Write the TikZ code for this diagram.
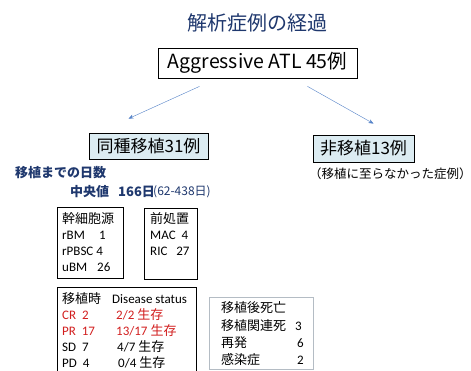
\documentclass[tikz,border=0pt]{standalone}
\usepackage{fontspec}
\setmainfont{Noto Sans CJK JP}
\newfontfamily\latfont{Carlito}
\usetikzlibrary{arrows.meta}
\definecolor{navy}{RGB}{31,56,110}
\definecolor{azul}{RGB}{84,130,200}
\definecolor{celeste}{RGB}{220,236,242}
\definecolor{rojo}{RGB}{210,30,30}
\definecolor{gris}{RGB}{180,188,196}

\begin{document}
\begin{tikzpicture}[x=1pt, y=-1pt,
		box/.style={draw, thick, inner sep=0pt},
		txt/.style={anchor=west, inner sep=0pt, font=\fontsize{13}{13}\selectfont},
		arr/.style={azul, thin, -{Stealth[length=5pt, width=4pt]}}]
				\useasboundingbox[fill=white] (0,0) rectangle (471,371);

				\node[navy, font=\fontsize{20}{20}\selectfont] (title) at (257,23) {解析症例の経過};

				\node[box, minimum width=199pt, minimum height=30pt, font=\fontsize{19.5}{19.5}\selectfont]
					(atl) at (257.5,63) {Aggressive ATL 45例};

				\node[box, fill=celeste, minimum width=119pt, minimum height=26pt, font=\fontsize{17}{17}\selectfont]
					(allo) at (148.5,146) {同種移植31例};
				\node[box, fill=celeste, minimum width=101pt, minimum height=27pt, font=\fontsize{17}{17}\selectfont]
					(non) at (363.5,148.5) {非移植13例};

				\draw[arr] ([xshift=-58pt, yshift=-8pt]atl.south) to ([xshift=-20pt, yshift=14pt]allo.north);
				\draw[arr] ([xshift=50pt, yshift=-8pt]atl.south) to ([xshift=10pt, yshift=11pt]non.north);

				\node[txt, font=\fontsize{12.5}{12.5}\selectfont] (note) at (309,174) {（移植に至らなかった症例）};

				\node[txt, navy, font=\fontsize{13}{13}\selectfont\bfseries] (days) at (15,173) {移植までの日数};
				\node[txt, navy, font=\fontsize{13}{13}\selectfont\bfseries] (median) at (70,192) {中央値};
				\node[txt, navy, font=\fontsize{13}{13}\selectfont\bfseries] (medval) at (118,192) {166日};
				\node[txt, navy, font=\fontsize{12}{12}\selectfont] (range) at (153,192) {(62-438日)};

				\node[box, minimum width=66pt, minimum height=71pt] (stem) at (90,242.5) {};
				\node[txt] (stemh) at (62,219) {幹細胞源};
				\node[txt] (rbm) at (62,235) {\latfont rBM};
				\node[txt] (rbmn) at (99,235) {\latfont 1};
				\node[txt] (rpb) at (62,251) {\latfont rPBSC 4};
				\node[txt] (ubm) at (62,267) {\latfont uBM};
				\node[txt] (ubmn) at (97,267) {\latfont 26};

				\node[box, minimum width=53pt, minimum height=71pt] (cond) at (170.5,243.5) {};
				\node[txt] (condh) at (150,219) {前処置};
				\node[txt] (mac) at (150,235) {\latfont MAC\ \ 4};
				\node[txt] (ric) at (150,251) {\latfont RIC\ \ \ 27};

				\node[box, minimum width=139pt, minimum height=90pt] (stat) at (126.5,332) {};
				\node[txt] (stath) at (62,299) {移植時};
				\node[txt] (dis) at (112,299) {\latfont Disease status};
				\node[txt, rojo] (cr) at (62,315) {\latfont CR\ \ 2};
				\node[txt, rojo] (crn) at (116,315) {\latfont 2/2 \rmfamily 生存};
				\node[txt, rojo] (pr) at (62,331) {\latfont PR\ \ 17};
				\node[txt, rojo] (prn) at (116,331) {\latfont 13/17 \rmfamily 生存};
				\node[txt] (sd) at (62,347) {\latfont SD\ \ 7};
				\node[txt] (sdn) at (117,347) {\latfont 4/7 \rmfamily 生存};
				\node[txt] (pd) at (62,363) {\latfont PD\ \ 4};
				\node[txt] (pdn) at (118,363) {\latfont 0/4 \rmfamily 生存};

				\node[draw=gris, semithick, minimum width=104pt, minimum height=72pt] (death) at (261,333) {};
				\node[txt] (deathh) at (221,308) {移植後死亡};
				\node[txt] (trm) at (221,326) {移植関連死};
				\node[txt] (trmn) at (295,326) {\latfont 3};
				\node[txt] (rel) at (221,343) {再発};
				\node[txt] (reln) at (297,343) {\latfont 6};
				\node[txt] (inf) at (221,360) {感染症};
				\node[txt] (infn) at (297,360) {\latfont 2};
			\end{tikzpicture}
\end{document}
